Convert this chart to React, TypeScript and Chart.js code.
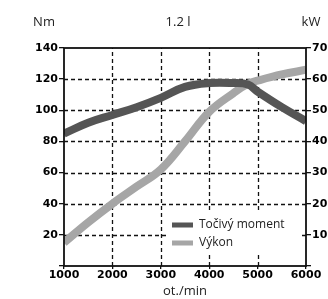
import React, { useEffect, useRef } from "react";
import { Chart, registerables } from "chart.js";

Chart.register(...registerables);

const rpm = [1000, 1500, 2000, 2500, 3000, 3500, 4000, 4500, 4800, 5000, 5500, 6000];
const torqueNm = [85, 92, 97, 102, 108, 115, 117.5, 117.5, 116.5, 112, 102, 93];
const powerKw = [7.5, 14, 20, 25.5, 31, 40, 49.5, 55.5, 58.5, 59.5, 61.5, 63];
const seriesNames = ["Točivý moment", "Výkon"];
const seriesColors = ["#555555", "#a6a6a6"];
const titleText = "1.2 l";
const leftUnit = "Nm";
const rightUnit = "kW";
const xTitle = "ot./min";

const FONT = "'Open Sans', 'Liberation Sans', sans-serif";
const TICKFONT = "'DejaVu Sans', sans-serif";

const dashedGrid = {
  id: "dashedGrid",
  beforeDatasetsDraw(chart: any) {
    const ctx = chart.ctx;
    const a = chart.chartArea;
    const xs = chart.scales.x;
    const ys = chart.scales.y;
    ctx.save();
    ctx.strokeStyle = "#111";
    ctx.lineWidth = 1.3;
    ctx.setLineDash([4, 3]);
    xs.ticks.forEach((t: any) => {
      const px = Math.round(xs.getPixelForValue(t.value)) + 0.5;
      if (px <= a.left + 1 || px >= a.right - 1) return;
      ctx.beginPath();
      ctx.moveTo(px, a.bottom);
      ctx.lineTo(px, a.top);
      ctx.stroke();
    });
    ys.ticks.forEach((t: any) => {
      const py = Math.round(ys.getPixelForValue(t.value)) + 0.5;
      if (py <= a.top + 1 || py >= a.bottom - 1) return;
      ctx.beginPath();
      ctx.moveTo(a.left, py);
      ctx.lineTo(a.right, py);
      ctx.stroke();
    });
    ctx.restore();
  },
};

const overlay = {
  id: "overlay",
  afterDraw(chart: any) {
    const ctx = chart.ctx;
    const a = chart.chartArea;
    ctx.save();
    ctx.fillStyle = "#222";
    ctx.font = `13px ${FONT}`;
    ctx.textBaseline = "middle";
    ctx.textAlign = "center";
    ctx.fillText(leftUnit, 44, 22);
    ctx.fillText(titleText, 178, 22);
    ctx.fillText(rightUnit, 311, 22);
    // legend box
    ctx.fillStyle = "#ffffff";
    ctx.fillRect(168, 211, 134, 41);
    ctx.font = `12px ${FONT}`;
    ctx.textAlign = "left";
    seriesNames.forEach((n, i) => {
      const y = 225 + i * 18;
      ctx.fillStyle = seriesColors[i];
      ctx.fillRect(172, y - 2.5, 21, 5);
      ctx.fillStyle = "#222";
      ctx.fillText(n, 199, y);
    });
    // border
    ctx.strokeStyle = "#111";
    ctx.lineWidth = 1.8;
    ctx.setLineDash([]);
    ctx.strokeRect(a.left, a.top, a.right - a.left, a.bottom - a.top);
    ctx.restore();
  },
};

export default function App() {
  const ref = useRef<HTMLCanvasElement>(null);
  useEffect(() => {
    const grid = {
      drawOnChartArea: false,
      color: "#111",
      lineWidth: 1.3,
      tickColor: "#111",
      tickLength: 5,
      tickWidth: 1.3,
    };
    const tickFont = { family: TICKFONT, size: 11, weight: "bold" };
    const chart = new Chart(ref.current!, {
      type: "line",
      data: {
        datasets: [
          {
            label: seriesNames[0],
            data: rpm.map((x, i) => ({ x, y: torqueNm[i] })),
            borderColor: seriesColors[0],
            borderWidth: 8,
            pointRadius: 0,
            tension: 0.4,
            yAxisID: "y",
          },
          {
            label: seriesNames[1],
            data: rpm.map((x, i) => ({ x, y: powerKw[i] })),
            borderColor: seriesColors[1],
            borderWidth: 8,
            pointRadius: 0,
            tension: 0.4,
            yAxisID: "y1",
          },
        ],
      },
      options: {
        animation: false,
        responsive: false,
        layout: { padding: { top: 48 } },
        plugins: { legend: { display: false }, tooltip: { enabled: false } },
        scales: {
          x: {
            type: "linear",
            min: 1000,
            max: 6000,
            ticks: { stepSize: 1000, color: "#000", font: tickFont, padding: 0, maxRotation: 0, callback: (v: any) => String(v) },
            grid: { ...grid, tickLength: 3 },
            border: { display: false },
            title: { display: true, text: xTitle, color: "#222", font: { family: FONT, size: 13 }, padding: 0 },
            afterFit: (s: any) => { s.height = 33; },
          },
          y: {
            position: "left",
            min: 0,
            max: 140,
            ticks: { stepSize: 20, color: "#000", font: tickFont, padding: 1, callback: (v: any) => (v === 0 ? "" : String(v)) },
            grid,
            border: { display: false },
            afterFit: (s: any) => { s.width = 64; },
          },
          y1: {
            position: "right",
            min: 0,
            max: 70,
            ticks: { stepSize: 10, color: "#000", font: tickFont, padding: 1, callback: (v: any) => (v === 0 ? "" : String(v)) },
            grid,
            border: { display: false },
            afterFit: (s: any) => { s.width = 22; },
          },
        },
      },
      plugins: [dashedGrid, overlay],
    } as any);
    return () => chart.destroy();
  }, []);
  return (
    <div style={{ position: "fixed", left: 0, top: 0, width: 328, height: 299, background: "#fff" }}>
      <canvas ref={ref} width={328} height={299} />
    </div>
  );
}
